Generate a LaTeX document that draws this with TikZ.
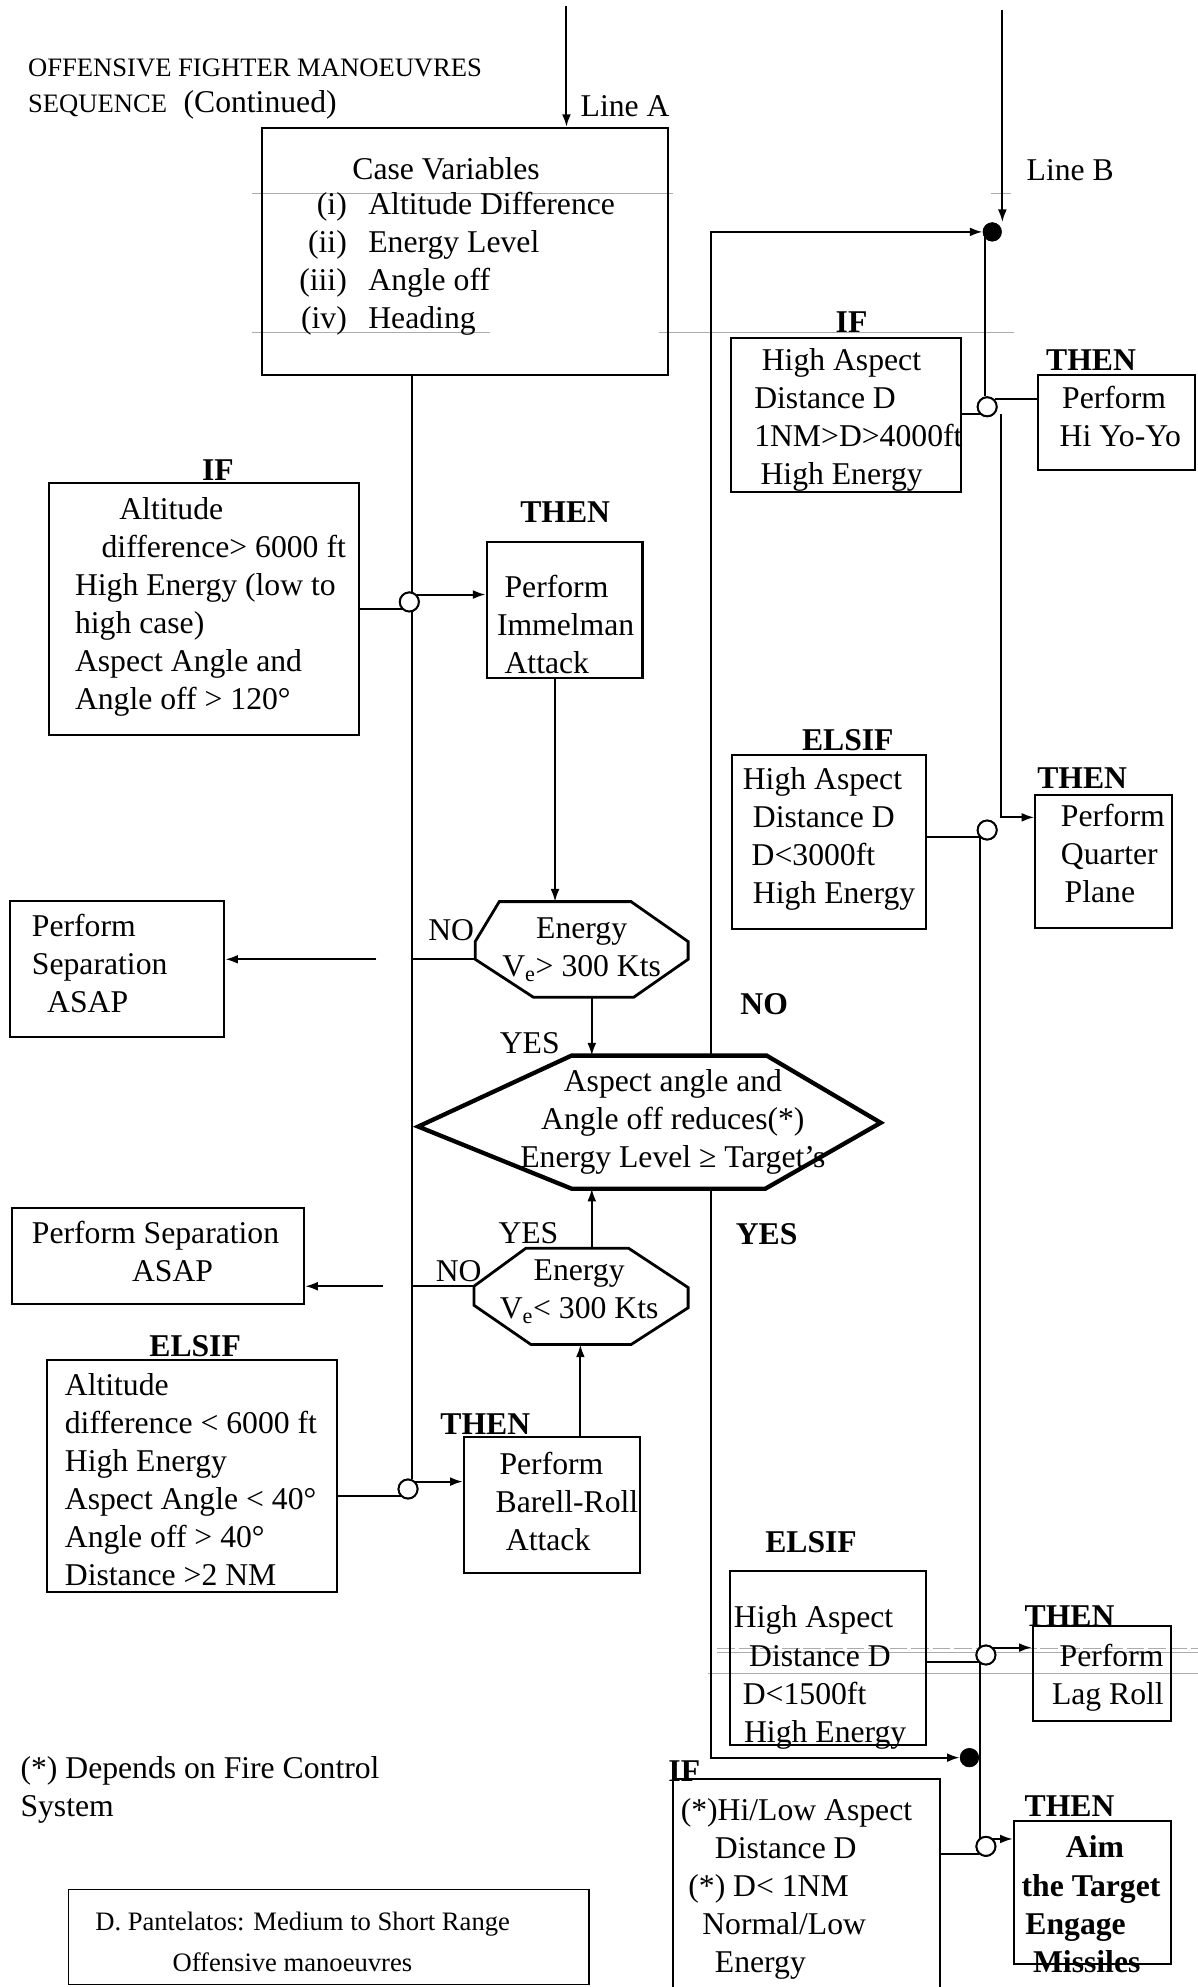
\documentclass[tikz,border=0pt]{standalone}
\usepackage{fontspec}
\setmainfont{Liberation Serif}
\usetikzlibrary{arrows.meta}
\tikzset{
  box/.style={draw, line width=1.6pt, inner sep=0pt, rectangle},
  txt/.style={align=left, inner sep=0pt, font=\fontsize{25}{30}\selectfont, yshift=-4pt,
    execute at begin node=\strut, execute at end node=\strut},
  ctxt/.style={txt, align=center},
  btxt/.style={txt, font=\fontsize{25}{30}\selectfont\bfseries},
  lbl/.style={inner sep=0pt, anchor=base, font=\fontsize{25}{30}\selectfont\bfseries},
  plbl/.style={inner sep=0pt, anchor=base, font=\fontsize{25}{30}\selectfont},
  ln/.style={line width=1.6pt, black},
  arr/.style={line width=1.6pt, black, -{Latex[length=10pt,width=7pt]}},
  hop/.style={circle, draw, line width=1.5pt, fill=white, inner sep=0pt, minimum size=15pt},
  dotn/.style={circle, fill=black, inner sep=0pt, minimum size=15pt},
  scanline/.style={gray!65, line width=0.7pt},
  octo/.style={draw, line width=2.2pt, line join=miter},
  hexa/.style={draw, line width=3.4pt, line join=miter},
}
\begin{document}
\begin{tikzpicture}[x=1pt,y=-1pt]
\fill[white] (0,0) rectangle (945,1568);
\useasboundingbox (0,0) rectangle (945,1568);

% faint scan lines
\draw[scanline] (199,152.5) -- (531,152.5);
\draw[scanline] (782,152.5) -- (798,152.5);
\draw[scanline] (199,262) -- (387,262);
\draw[scanline] (520,262) -- (800,262);
\draw[scanline, dash pattern=on 14pt off 3pt] (566,1301) -- (945,1301);
\draw[scanline] (566,1304) -- (945,1304);
\draw[scanline] (559,1320.5) -- (945,1320.5);

% title and notes
\node[txt, anchor=west, font=\fontsize{21}{28}\selectfont] (title) at (22,68)
  {OFFENSIVE FIGHTER MANOEUVRES\\SEQUENCE\hspace{13pt}{\fontsize{25}{28}\selectfont(Continued)}};
\node[plbl, anchor=base west] (lineA) at (458,92.3) {Line A};
\node[plbl, anchor=base west] (lineB) at (810,142.3) {Line B};
\node[txt, anchor=west] (foot) at (16,1410.5) {(*) Depends on Fire Control\\System};

% boxes
\node[box, minimum width=320pt, minimum height=195pt] (cv) at (367,198.5) {};
\node[box, minimum width=244pt, minimum height=199pt] (if1) at (161,480.5) {};
\node[box, minimum width=123pt, minimum height=107pt] (imm) at (445.5,481.5) {};
\node[box, minimum width=169pt, minimum height=107pt] (sep1) at (92.5,764.5) {};
\node[box, minimum width=230.5pt, minimum height=76pt] (sep2) at (124.75,991) {};
\node[box, minimum width=229pt, minimum height=183pt] (eif) at (151.5,1164.5) {};
\node[box, minimum width=139pt, minimum height=107pt] (bar) at (435.5,1187.5) {};
\node[box, minimum width=181pt, minimum height=121pt] (hyif) at (667.5,327.5) {};
\node[box, minimum width=124pt, minimum height=75pt] (hyo) at (881,333.5) {};
\node[box, minimum width=153pt, minimum height=137pt] (qpif) at (654.5,664.5) {};
\node[box, minimum width=108pt, minimum height=105pt] (qp) at (871,679.5) {};
\node[box, minimum width=155pt, minimum height=137pt] (lrif) at (653.5,1308.5) {};
\node[box, minimum width=109pt, minimum height=75pt] (lr) at (869.5,1320.5) {};
\begin{scope}
  \clip (0,0) rectangle (945,1568);
  \node[box, minimum width=211pt, minimum height=186pt] (aimif) at (636.5,1497) {};
\end{scope}
\node[box, minimum width=124pt, minimum height=113pt] (aim) at (862,1493.5) {};
\node[box, line width=1.4pt, minimum width=411pt, minimum height=75pt] (credit) at (259.5,1528.5) {};

% decision shapes
\draw[octo] (394,711.5) -- (498,711.5) -- (543,743) -- (543,757) -- (500,787)
  -- (421,787) -- (375,757) -- (375,743) -- cycle;
\draw[octo] (415,985) -- (496,985) -- (543,1016) -- (543,1032) -- (498,1061)
  -- (419,1061) -- (374,1030) -- (374,1015) -- cycle;
\draw[hexa] (330,889) -- (451,833) -- (605,833) -- (695,886) -- (604,938)
  -- (451,938) -- cycle;

% named points
\coordinate (la) at (447,5);
\coordinate (lb) at (791,8);
\coordinate (tr) at (325,0);
\coordinate (imx) at (438,0);
\coordinate (e1in) at (438,711.5);
\coordinate (e1L) at (375,757);
\coordinate (e1B) at (467,787);
\coordinate (no1) at (297,757);
\coordinate (hT) at (528,833);
\coordinate (hB) at (528,938);
\coordinate (e2T) at (467,985);
\coordinate (e2L) at (374,1015);
\coordinate (no2) at (302,1015);
\coordinate (e2Bin) at (458,1061);
\coordinate (nx) at (561,0);
\coordinate (rt1) at (777,0);
\coordinate (rt2) at (790,0);
\coordinate (rt3) at (773.5,0);
\coordinate (qpin) at (790,645);

% hop circles and junction dots (positions)
\path (323,475) node[hop] (hop1) {};
\path (322,1175) node[hop] (hop2) {};
\path (779,321) node[hop] (hop3) {};
\path (779,655) node[hop] (hop4) {};
\path (778,1306) node[hop] (hop5) {};
\path (778,1457) node[hop] (hop6) {};
\path (783,183) node[dotn] (dot1) {};
\path (765,1387) node[dotn] (dot2) {};

% connectors
\draw[arr] (la) -- (la |- cv.north);
\draw[arr] (lb) -- (lb |- dot1.north);
\draw[ln] (cv.south -| tr) -- (tr |- hop2.north);
\draw[ln] (hop1.south west -| if1.east) -- (hop1.south west);
\draw[arr] (hop1.north east) -- (hop1.north east -| imm.west);
\draw[arr] (imm.south -| imx) -- (e1in);
\draw[ln] (e1L) -- (e1L -| tr);
\draw[arr] (no1) -- (no1 -| sep1.east);
\draw[arr] (e1B) -- (e1B |- hT);
\draw[arr] (e2T) -- (e2T |- hB);
\draw[ln] (e2L) -- (e2L -| tr);
\draw[arr] (no2) -- (no2 -| sep2.east);
\draw[arr] (bar.north -| e2Bin) -- (e2Bin);
\draw[ln] (hop2.south west -| eif.east) -- (hop2.south west);
\draw[arr] (hop2.north east) -- (hop2.north east -| bar.west);
\draw[arr] (nx |- hT) |- (dot1.west);
\draw[arr] (nx |- hB) |- (dot2.west);
\draw[ln] (dot1 -| rt1) -- (rt1 |- hop3.north);
\draw[ln] (hop3.south west -| hyif.east) -- (hop3.south west);
\draw[ln] (hop3.north east) -- (hop3.north east -| hyo.west);
\draw[arr] (rt2 |- hop3.south east) -- (qpin) -- (qpin -| qp.west);
\draw[ln] (hop4.south west -| qpif.east) -- (hop4.south west);
\draw[ln] (rt3 |- hop4) -- (rt3 |- hop6);
\draw[ln] (hop5.south west -| lrif.east) -- (hop5.south west);
\draw[arr] (hop5.north east) -- (hop5.north east -| lr.west);
\draw[ln] (hop6.south west -| aimif.east) -- (hop6.south west);
\draw[arr] (hop6.north east) -- (hop6.north east -| aim.west);

% redraw hops and dots on top
\path (hop1) node[hop] {};
\path (hop2) node[hop] {};
\path (hop3) node[hop] {};
\path (hop4) node[hop] {};
\path (hop5) node[hop] {};
\path (hop6) node[hop] {};
\path (dot1) node[dotn] {};
\path (dot2) node[dotn] {};

% box texts
\node[plbl] (cvtitle) at (352,141.3) {Case Variables};
\node[inner sep=0pt, anchor=west, font=\fontsize{25}{30}\selectfont] (cvlist) at (236,208)
  {\begin{tabular}{@{}r@{\hspace{17pt}}l@{}}
   (i) & Altitude Difference\\
   (ii) & Energy Level\\
   (iii) & Angle off\\
   (iv) & Heading
   \end{tabular}};
\node[txt, anchor=west] (if1t) at (59,476.5)
  {\hspace*{35pt}Altitude\\\hspace*{21pt}difference> 6000 ft\\High Energy (low to\\high case)\\Aspect Angle and\\Angle off > 120°};
\node[txt, anchor=west] (immt) at (392,493) {\hspace*{6pt}Perform\\Immelman\\\hspace*{6pt}Attack};
\node[ctxt] (en1t) at (459,748) {Energy\\V\textsubscript{e}> 300 Kts};
\node[txt, anchor=west] (sep1t) at (25,761) {Perform\\Separation\\\hspace*{12pt}ASAP};
\node[ctxt] (aspt) at (531,883) {Aspect angle and\\Angle off reduces(*)\\Energy Level ≥ Target’s};
\node[ctxt] (en2t) at (457,1018) {Energy\\V\textsubscript{e}< 300 Kts};
\node[txt, anchor=west] (sep2t) at (25,988) {Perform Separation\\\hspace*{79pt}ASAP};
\node[txt, anchor=west] (eift) at (51,1168)
  {Altitude\\difference < 6000 ft\\High Energy\\Aspect Angle < 40°\\Angle off > 40°\\Distance >2 NM};
\node[txt, anchor=west] (bart) at (391,1185) {\hspace*{3pt}Perform\\Barell-Roll\\\hspace*{8pt}Attack};
\node[txt, anchor=west] (hyift) at (595,329)
  {\hspace*{6pt}High Aspect\\Distance D\\1NM>D>4000ft\\\hspace*{5pt}High Energy};
\node[txt, anchor=west] (hyot) at (836,329) {\hspace*{2pt}Perform\\Hi Yo-Yo};
\node[txt, anchor=west] (qpift) at (586,659.5)
  {High Aspect\\\hspace*{8pt}Distance D\\\hspace*{7pt}D<3000ft\\\hspace*{8pt}High Energy};
\node[txt, anchor=west] (qpt) at (837,674) {Perform\\Quarter\\\hspace*{3pt}Plane};
\node[txt, anchor=west] (lrift) at (579,1321.5)
  {High Aspect\\\hspace*{12pt}Distance D\\\hspace*{7pt}D<1500ft\\\hspace*{8pt}High Energy};
\node[txt, anchor=west] (lrt) at (830,1321.5) {\hspace*{6pt}Perform\\Lag Roll};
\node[txt, anchor=west] (aimift) at (537,1488.5)
  {(*)Hi/Low Aspect\\\hspace*{27pt}Distance D\\\hspace*{6pt}(*) D< 1NM\\\hspace*{17pt}Normal/Low\\\hspace*{27pt}Energy};
\node[btxt, anchor=west] (aimt) at (806,1503)
  {\hspace*{35pt}Aim\\the Target\\\hspace*{3pt}Engage\\\hspace*{9pt}Missiles};
\node[txt, anchor=west, font=\fontsize{21}{32}\selectfont] (creditt) at (75,1533)
  {D. Pantelatos: Medium to Short Range\\\hspace*{61pt}Offensive manoeuvres};

% labels
\node[lbl] (l1) at (172,379.3) {IF};
\node[lbl] (l2) at (446,412.3) {THEN};
\node[lbl] (l3) at (672,262.3) {IF};
\node[lbl] (l4) at (861,292.3) {THEN};
\node[lbl] (l5) at (669,592.3) {ELSIF};
\node[lbl] (l6) at (854,622.3) {THEN};
\node[lbl] (l7) at (603,800.3) {NO};
\node[lbl] (l8) at (605,982.3) {YES};
\node[lbl] (l9) at (154,1070.3) {ELSIF};
\node[lbl] (l10) at (383,1132.3) {THEN};
\node[lbl] (l11) at (640,1225.3) {ELSIF};
\node[lbl] (l12) at (844,1283.3) {THEN};
\node[lbl] (l13) at (540,1406) {IF};
\node[lbl] (l14) at (844,1433.3) {THEN};
\node[plbl] (p1) at (356,742.3) {NO};
\node[plbl] (p2) at (418,831.3) {YES};
\node[plbl] (p3) at (417,981.3) {YES};
\node[plbl] (p4) at (362,1011.3) {NO};
\end{tikzpicture}
\end{document}
